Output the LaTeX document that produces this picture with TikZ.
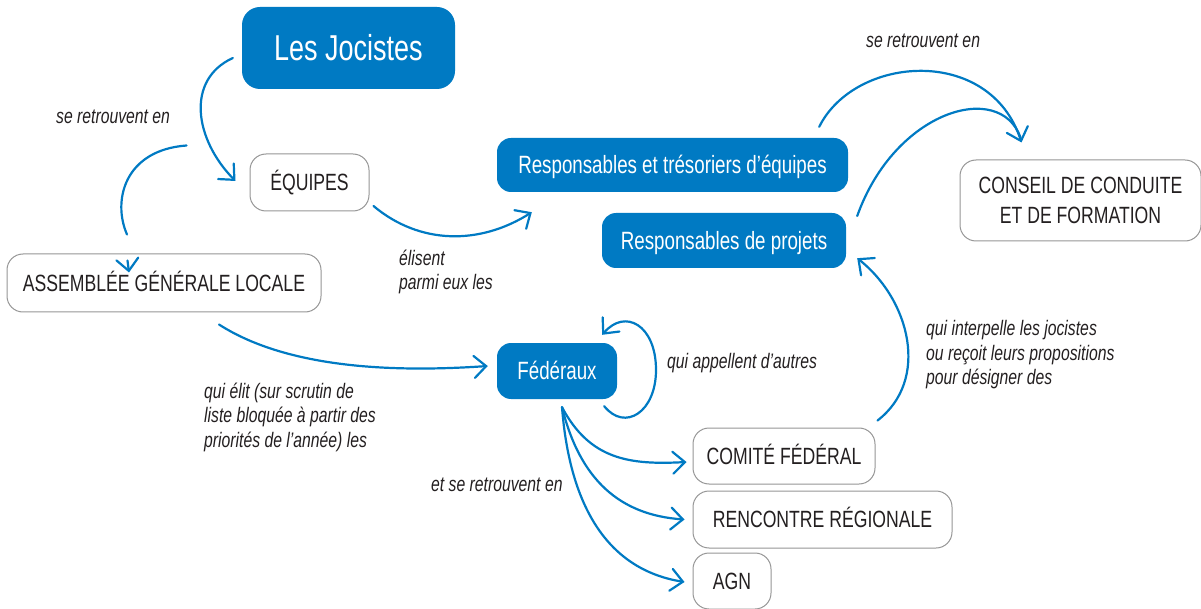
\documentclass[tikz,border=0pt]{standalone}
\usepackage{fontspec}
\setmainfont{Liberation Sans}[FakeStretch=0.75]
\usetikzlibrary{arrows.meta,calc}
\definecolor{jblue}{RGB}{0,122,195}
\definecolor{jgray}{RGB}{150,150,150}
\definecolor{jtext}{RGB}{35,31,32}
\begin{document}
\begin{tikzpicture}[x=1pt,y=-1pt,
  bluebox/.style={fill=jblue, rounded corners=14pt, text=white, minimum height=55pt, inner sep=0pt, font=\fontsize{25}{28}\selectfont, text height=17.9pt, text depth=0pt},
  whitebox/.style={draw=jgray, line width=1pt, fill=white, rounded corners=16pt, text=jtext, minimum height=57pt, font=\fontsize{23.5}{30}\selectfont, inner sep=0pt, align=center},
  onecap/.style={text height=16.8pt, text depth=0pt},
  lab/.style={text=jtext, font=\fontsize{21}{24.5}\selectfont\itshape, align=left, inner sep=0pt},
  conn/.style={draw=jblue, line width=2.2pt, line cap=round, -{Straight Barb[length=12pt,width=22pt,line cap=round]}},
  plainconn/.style={draw=jblue, line width=2.2pt, line cap=round}
]
\useasboundingbox (0,0) rectangle (1201,609);

% nodes
\node[bluebox, minimum width=213pt, minimum height=82pt, rounded corners=18pt, font=\fontsize{36}{40}\selectfont, text height=25.8pt] (joc) at (348.5,48) {Les Jocistes};
\node[whitebox, onecap, minimum width=119pt] (equ) at (309.5,182.5) {ÉQUIPES};
\node[whitebox, onecap, minimum width=314pt, minimum height=58pt] (agl) at (164,283) {ASSEMBLÉE GÉNÉRALE LOCALE};
\node[bluebox, minimum width=351pt, minimum height=54pt] (rte) at (672.5,165) {Responsables et trésoriers d’équipes};
\node[bluebox, minimum width=244pt] (rpj) at (724,240.5) {Responsables de projets};
\node[whitebox, minimum width=241pt, minimum height=81pt] (ccf) at (1080.5,200.5) {CONSEIL DE CONDUITE\\ET DE FORMATION};
\node[bluebox, minimum width=120pt, minimum height=56pt] (fed) at (557,371) {Fédéraux};
\node[whitebox, onecap, minimum width=182pt, minimum height=56pt] (cf) at (784,456) {COMITÉ FÉDÉRAL};
\node[whitebox, onecap, minimum width=259pt] (rr) at (822.5,519.5) {RENCONTRE RÉGIONALE};
\node[whitebox, onecap, minimum width=78pt, minimum height=56pt] (agn) at (732,581) {AGN};

% labels
\node[lab, anchor=west] (l1) at (56,117) {se retrouvent en};
\node[lab, anchor=west] (l2) at (866,41) {se retrouvent en};
\node[lab, anchor=west] (l3) at (399,272) {élisent\\parmi eux les};
\node[lab, anchor=west] (l4) at (204,417) {qui élit (sur scrutin de\\liste bloquée à partir des\\priorités de l’année) les};
\node[lab, anchor=west] (l5) at (667,363) {qui appellent d’autres};
\node[lab, anchor=west] (l6) at (431,485) {et se retrouvent en};
\node[lab, anchor=west] (l7) at (926,355) {qui interpelle les jocistes\\ou reçoit leurs propositions\\pour désigner des};

% connectors
\coordinate (free1) at ($(equ.north west)+(-63,-8)$);
\draw[conn] ($(joc.west)+(-9,10)$) .. controls (185,80) and (195,140) .. ($(equ.west)+(-14,-1.5)$);
\draw[plainconn] (free1) .. controls (125,150) and (112,200) .. ($(agl.north)+(-37,-19)$);
\draw[conn] ($(agl.north)+(-36.5,7)$) -- ($(agl.north)+(-35,19)$);
\draw[conn] ($(equ.east)+(4,23.5)$) .. controls (420,245) and (480,245) .. ($(rte.south west)+(35,20)$);
\draw[conn] ($(rte.north east)+(-29,-11)$) .. controls (855,55) and (990,45) .. ($(ccf.north west)+(62,-17)$);
\draw[plainconn] ($(rpj.east)+(11,-24.5)$) .. controls (895,110) and (1000,80) .. ($(ccf.north west)+(61,-22)$);
\draw[conn] ($(cf.north east)+(2,-7)$) .. controls (930,380) and (910,300) .. ($(rpj.south east)+(11,-10)$);
\draw[conn] ($(agl.south)+(55,12)$) .. controls (290,370) and (400,372) .. ($(fed.west)+(-9,-5)$);
\draw[conn] ($(fed.south east)+(-13,7)$) .. controls (625,432) and (656,412) .. (656,370) .. controls (656,325) and (625,308) .. ($(fed.north east)+(-15,-8)$);
\draw[conn] ($(fed.south)+(5,8)$) .. controls (590,460) and (630,465) .. ($(cf.west)+(-6,6)$);
\draw[conn] ($(fed.south)+(5,8)$) .. controls (580,480) and (620,515) .. ($(rr.west)+(-8,0)$);
\draw[conn] ($(fed.south)+(5,8)$) .. controls (570,510) and (610,570) .. ($(agn.west)+(-8,1)$);
\end{tikzpicture}
\end{document}
